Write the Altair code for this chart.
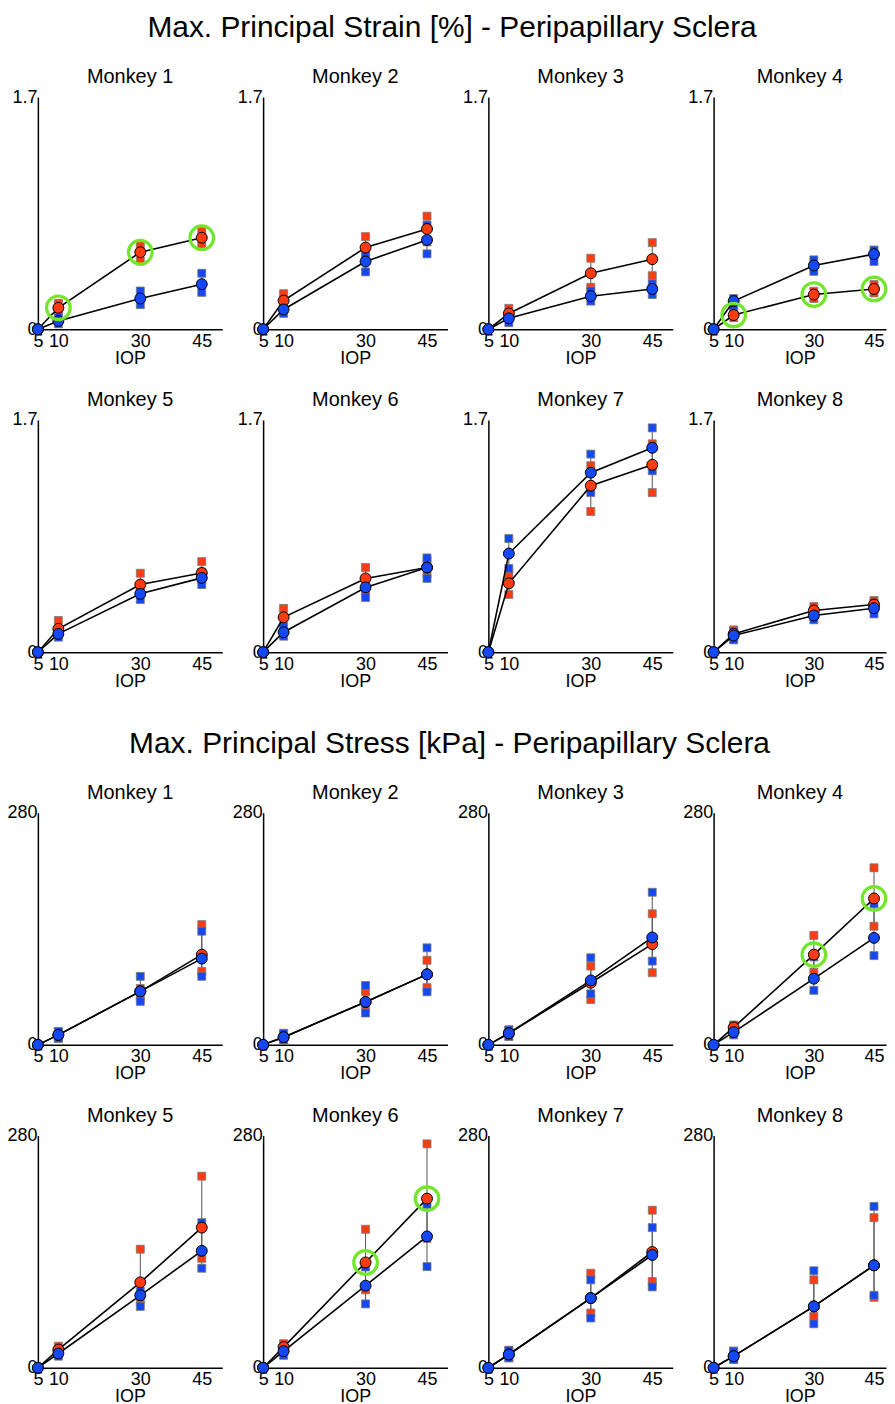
import altair as alt
import pandas as pd

# IOP levels (mmHg) at which each eye was loaded
IOP_LEVELS = [5, 10, 30, 45]
MONKEYS = ["Monkey 1", "Monkey 2", "Monkey 3", "Monkey 4",
           "Monkey 5", "Monkey 6", "Monkey 7", "Monkey 8"]

# Max. principal strain [%]: mean, lower and upper marker per monkey
STRAIN_RED_MEAN = [[0, .157, .564, .67], [0, .21, .598, .734], [0, .116, .41, .513], [0, .104, .254, .295],
                   [0, .171, .495, .58], [0, .255, .54, .62], [0, .504, 1.219, 1.372], [0, .134, .305, .349]]
STRAIN_RED_LO = [[0, .13, .50, .61], [0, .17, .52, .64], [0, .085, .307, .392], [0, .085, .225, .266],
                 [0, .134, .439, .529], [0, .16, .45, .57], [0, .423, 1.03, 1.168], [0, .098, .28, .317]]
STRAIN_RED_HI = [[0, .19, .617, .726], [0, .26, .678, .828], [0, .153, .52, .634], [0, .138, .278, .327],
                 [0, .232, .578, .663], [0, .32, .62, .67], [0, .562, 1.365, 1.525], [0, .163, .334, .378]]
STRAIN_BLUE_MEAN = [[0, .06, .225, .33], [0, .145, .496, .654], [0, .08, .242, .295], [0, .206, .467, .55],
                    [0, .134, .427, .544], [0, .146, .474, .62], [0, .722, 1.314, 1.496], [0, .122, .268, .322]]
STRAIN_BLUE_LO = [[0, .04, .18, .27], [0, .116, .42, .552], [0, .048, .206, .254], [0, .17, .424, .496],
                  [0, .11, .385, .495], [0, .117, .40, .54], [0, .613, 1.168, 1.328], [0, .09, .237, .28]]
STRAIN_BLUE_HI = [[0, .085, .28, .41], [0, .18, .557, .763], [0, .109, .28, .332], [0, .225, .508, .58],
                  [0, .159, .463, .585], [0, .19, .525, .69], [0, .832, 1.45, 1.642], [0, .15, .305, .359]]
STRAIN_CIRCLED = [[10, 30, 45], [], [], [10, 30, 45], [], [], [], []]

# Max. principal stress [kPa]
STRESS_RED_MEAN = [[0, 12, 64.5, 108.8], [0, 9.3, 51.8, 85], [0, 14, 74.9, 121.4], [0, 21, 108.8, 176.5],
                   [0, 22, 103, 169], [0, 24.9, 127, 204], [0, 16, 84, 139.6], [0, 14, 74, 123.5]]
STRESS_RED_LO = [[0, 8, 58.4, 88.6], [0, 6, 44.5, 69], [0, 11, 54.6, 87], [0, 18, 87.4, 143],
                 [0, 20, 82, 132], [0, 21, 94, 156], [0, 12, 66, 104], [0, 10, 62, 85]]
STRESS_RED_HI = [[0, 16, 68, 145], [0, 13, 64, 102], [0, 18, 95, 158], [0, 24, 132, 213.5],
                 [0, 26, 143, 231], [0, 29, 167, 270], [0, 21, 114, 190], [0, 20, 106, 181]]
STRESS_BLUE_MEAN = [[0, 12, 64.5, 104], [0, 9.3, 51.8, 85], [0, 14, 77.7, 129.5], [0, 15.3, 79.8, 129],
                    [0, 17.2, 87.4, 141], [0, 20, 99, 158.4], [0, 16, 84, 136], [0, 14, 74, 123.5]]
STRESS_BLUE_LO = [[0, 8, 52.4, 82.6], [0, 6, 38.4, 64], [0, 10, 61.5, 101], [0, 12, 65.7, 107.6],
                  [0, 14, 74, 120], [0, 15, 77, 122], [0, 12, 60, 97.5], [0, 10, 53, 87.4]]
STRESS_BLUE_HI = [[0, 16, 82.6, 137], [0, 14, 71.6, 117], [0, 18, 105, 184], [0, 19, 106, 170],
                  [0, 20, 92, 175], [0, 24, 121.5, 197], [0, 21, 106, 169], [0, 20, 117, 194.6]]
STRESS_CIRCLED = [[], [], [], [30, 45], [], [30, 45], [], []]

RED = "#ff3b12"
BLUE = "#1448f5"
GREEN = "#72e62a"
FONT = "Liberation Sans"
SERIES = ["red", "blue"]


def panel(k, red, blue, circled, ymax, yfmt, width, xmax):
    pts, sq = [], []
    for name, (mean, lo, hi) in (("red", red), ("blue", blue)):
        for x, m, l, h in zip(IOP_LEVELS, mean[k], lo[k], hi[k]):
            pts.append({"iop": x, "series": name, "v": m, "lo": l, "hi": h})
            if x != 5:
                sq.append({"iop": x, "series": name, "v": l})
                sq.append({"iop": x, "series": name, "v": h})
    pts = pd.DataFrame(pts)
    sq = pd.DataFrame(sq)
    hl = pts[(pts.series == "red") & (pts.iop.isin(circled[k]))]

    x = alt.X("iop:Q",
              scale=alt.Scale(domain=[5, xmax], nice=False, zero=False),
              axis=alt.Axis(values=[5, 10, 30, 45], title="IOP", labelFlush=False,
                            grid=False, ticks=False, domainColor="black", domainWidth=1.5,
                            labelFontSize=18, titleFontSize=18, titleFontWeight="normal",
                            labelPadding=3, titlePadding=-1, labelColor="black",
                            titleColor="black"))
    yscale = alt.Scale(domain=[0, ymax], nice=False)
    yaxis = alt.Axis(values=[0, ymax], format=yfmt, grid=False, ticks=False,
                     domainColor="black", domainWidth=1.5, labelFontSize=18,
                     labelPadding=1, labelColor="black")
    col = alt.Color("series:N", scale=alt.Scale(domain=SERIES, range=[RED, BLUE]), legend=None)

    bars = alt.Chart(pts).mark_rule(color="#555555", strokeWidth=1).encode(
        x=x, y=alt.Y("lo:Q", scale=yscale, axis=yaxis, title=None), y2="hi:Q")
    squares = alt.Chart(sq).mark_point(shape="square", filled=True, size=64, opacity=1,
                                       stroke="#777777", strokeWidth=0.8).encode(
        x=x, y=alt.Y("v:Q", scale=yscale, axis=yaxis, title=None), fill=col)
    lines = alt.Chart(pts).mark_line(color="black", strokeWidth=1.6).encode(
        x=x, y=alt.Y("v:Q", scale=yscale, axis=yaxis, title=None), detail="series:N")
    dots = alt.Chart(pts).mark_point(shape="circle", filled=True, size=120, opacity=1,
                                     stroke="black", strokeWidth=1).encode(
        x=x, y=alt.Y("v:Q", scale=yscale, axis=yaxis, title=None), fill=col)
    rings = alt.Chart(hl).mark_point(shape="circle", filled=False, size=560, opacity=1,
                                     color=GREEN, strokeWidth=3.2).encode(
        x=x, y=alt.Y("v:Q", scale=yscale, axis=yaxis, title=None))

    return alt.layer(bars, squares, lines, dots, rings).properties(
        width=width, height=233,
        view=alt.ViewBackground(stroke="transparent", strokeWidth=0),
        title=alt.TitleParams(MONKEYS[k], fontSize=20, font=FONT, fontWeight="normal",
                              anchor="middle", baseline="alphabetic", offset=-15, color="black"))


def section(title, red, blue, circled, ymax, yfmt):
    cells = []
    for k in range(8):
        w, xm = (173, 48) if k % 4 == 3 else (185, 50)
        cells.append(panel(k, red, blue, circled, ymax, yfmt, w, xm))
    return alt.concat(*cells, columns=4, spacing={"row": 91, "column": 41}, bounds="flush",
                      title=alt.TitleParams(title, fontSize=30, font=FONT, fontWeight="normal",
                                            anchor="middle", offset=24, color="black"))


strain = section("Max. Principal Strain [%] - Peripapillary Sclera",
                 (STRAIN_RED_MEAN, STRAIN_RED_LO, STRAIN_RED_HI),
                 (STRAIN_BLUE_MEAN, STRAIN_BLUE_LO, STRAIN_BLUE_HI),
                 STRAIN_CIRCLED, 1.7, ".2~f")
stress = section("Max. Principal Stress [kPa] - Peripapillary Sclera",
                 (STRESS_RED_MEAN, STRESS_RED_LO, STRESS_RED_HI),
                 (STRESS_BLUE_MEAN, STRESS_BLUE_LO, STRESS_BLUE_HI),
                 STRESS_CIRCLED, 280, "d")

chart = alt.vconcat(strain, stress, spacing=39).properties(
    padding={"left": 6, "top": 11, "right": 2, "bottom": 2}
).configure_view(strokeWidth=0, stroke="transparent").configure_axis(
    labelFont=FONT, titleFont=FONT
).configure(background="white")

chart.save("out.html", embed_options={"renderer": "svg", "actions": False})
